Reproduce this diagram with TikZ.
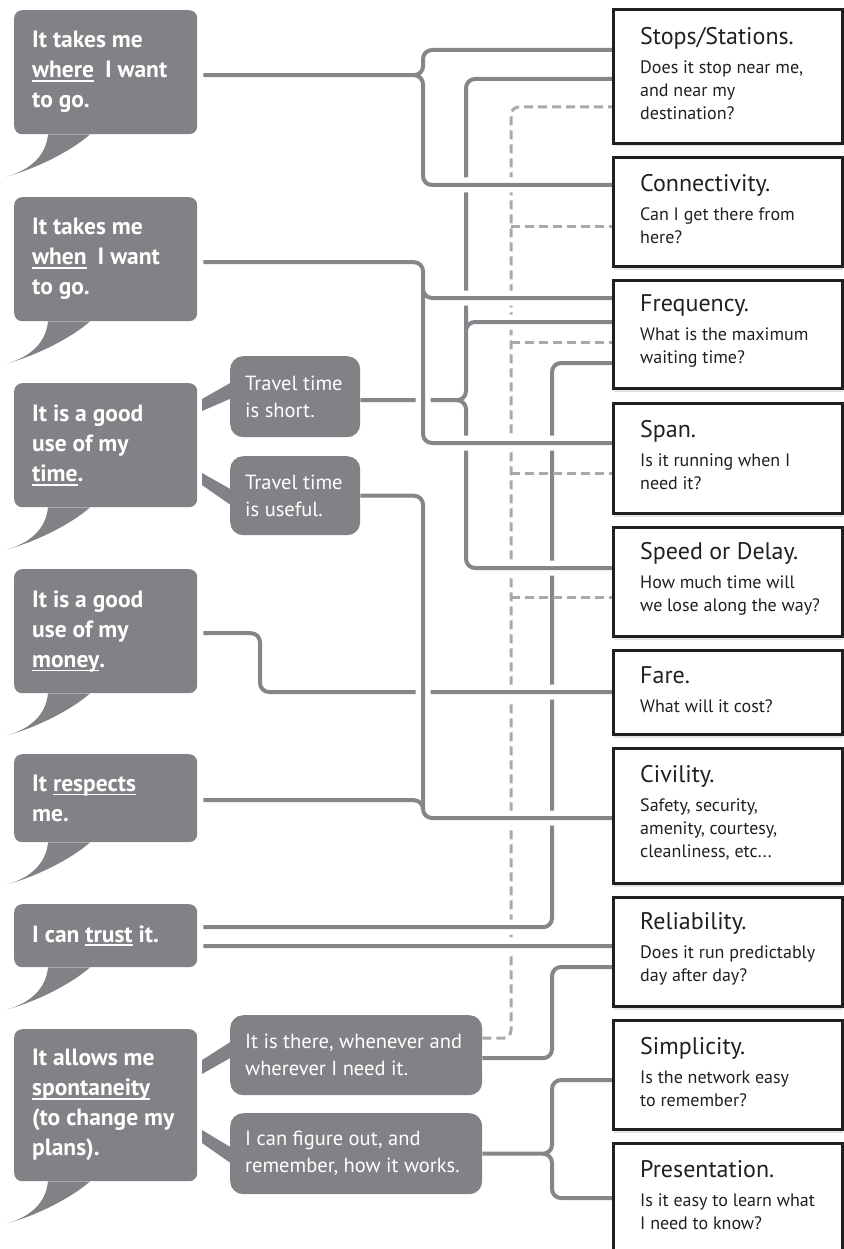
\documentclass[tikz,border=0pt]{standalone}
\usepackage{fontspec}
\setmainfont{PT Sans}
\usetikzlibrary{shadows}
\definecolor{bubblegray}{HTML}{808285}
\definecolor{linegray}{HTML}{858689}
\definecolor{dashgray}{HTML}{A7A9AC}
\definecolor{boxblack}{HTML}{231F20}
\newcommand\bubblefont{\fontsize{23.5}{30}\selectfont\bfseries}
\newcommand\subbubblefont{\fontsize{20.5}{27}\selectfont}
\newcommand\boxtitlefont{\fontsize{24}{28}\selectfont}
\newcommand\boxsubfont{\fontsize{18}{23}\selectfont}
\newcommand\ulword[1]{\setbox0\hbox{#1}\rlap{\rule[-4pt]{\wd0}{1.6pt}}\copy0\relax}
\tikzset{
    mainbubble/.style = {fill=bubblegray, rounded corners=8pt, anchor=north west, minimum width=183pt, inner sep=0pt},
    bubble-text/.style = {text=white, font=\bubblefont, align=left, anchor=west, inner sep=0pt},
    subbubble/.style = {fill=bubblegray, rounded corners=13pt, anchor=north west, inner sep=0pt},
    subbubble-text/.style = {text=white, font=\subbubblefont, align=left, anchor=west, inner sep=0pt},
    infobox/.style = {draw=boxblack, line width=3pt, fill=white, anchor=north west, minimum width=229pt, inner sep=0pt,
        drop shadow={shadow xshift=0.5pt, shadow yshift=-3pt, opacity=0.22}},
    infobox-text/.style = {text=boxblack, font=\boxsubfont, align=left, anchor=west, inner sep=0pt, yshift=3pt},
    link/.style = {draw=linegray, line width=4pt, rounded corners=9pt, preaction={draw=white, line width=15pt}},
    dashlink/.style = {draw=dashgray, line width=3pt, dash pattern=on 9pt off 5pt},
}
\newcommand\bubbletail[1]{\fill[bubblegray] ([xshift=34pt]#1.south west) .. controls +(-2,22) and +(22,-6) .. ([shift={(-7pt,-42pt)}]#1.south west) .. controls +(30,-8) and +(-18,16) .. ([xshift=76pt]#1.south west) -- cycle;}

\begin{document}
\begin{tikzpicture}[x=1pt, y=-1pt]
\useasboundingbox (0,0) rectangle (843,1249);

\coordinate (lane-m) at (260,0);
\coordinate (lane-a) at (423,0);
\coordinate (lane-b) at (466,0);
\coordinate (lane-c) at (511,0);
\coordinate (lane-d) at (552,0);

\node[mainbubble, minimum height=124pt] (where) at (14,10) {};
\node[mainbubble, minimum height=124pt] (when) at (14,197) {};
\node[mainbubble, minimum height=124pt] (time) at (14,383) {};
\node[mainbubble, minimum height=124pt] (money) at (14,569) {};
\node[mainbubble, minimum height=88pt] (respects) at (14,754) {};
\node[mainbubble, minimum height=63pt] (trust) at (14,904) {};
\node[mainbubble, minimum height=152pt] (spont) at (14,1029) {};
\bubbletail{where}
\bubbletail{when}
\bubbletail{time}
\bubbletail{money}
\bubbletail{respects}
\bubbletail{trust}
\bubbletail{spont}
\node[bubble-text] (where-txt) at ([xshift=18pt]where.west) {It takes me\\\ulword{where}\hspace{5pt} I want\\to go.};
\node[bubble-text] (when-txt) at ([xshift=18pt]when.west) {It takes me\\\ulword{when}\hspace{5pt} I want\\to go.};
\node[bubble-text] (time-txt) at ([xshift=18pt]time.west) {It is a good\\use of my\\\ulword{time}.};
\node[bubble-text] (money-txt) at ([xshift=18pt]money.west) {It is a good\\use of my\\\ulword{money}.};
\node[bubble-text] (respects-txt) at ([xshift=18pt]respects.west) {It \ulword{respects}\\me.};
\node[bubble-text] (trust-txt) at ([xshift=18pt]trust.west) {I can \ulword{trust} it.};
\node[bubble-text] (spont-txt) at ([xshift=18pt]spont.west) {It allows me\\\ulword{spontaneity}\\(to change my\\plans).};

\node[subbubble, minimum width=130pt, minimum height=81pt] (short) at (230,356) {};
\node[subbubble, minimum width=130pt, minimum height=79pt] (useful) at (230,456) {};
\node[subbubble, minimum width=252pt, minimum height=80pt] (there) at (230,1015) {};
\node[subbubble, minimum width=252pt, minimum height=81pt] (figure) at (230,1113) {};
\fill[bubblegray] (202,399) -- (232,382) -- (232,398) -- (202,411) -- cycle;
\fill[bubblegray] (202,473) -- (232,490) -- (232,506) -- (202,485) -- cycle;
\fill[bubblegray] (202,1060) -- (232,1041) -- (232,1057) -- (202,1074) -- cycle;
\fill[bubblegray] (202,1130) -- (232,1148) -- (232,1164) -- (202,1143) -- cycle;
\node[subbubble-text] (short-txt) at ([xshift=15pt]short.west) {Travel time\\is short.};
\node[subbubble-text] (useful-txt) at ([xshift=15pt]useful.west) {Travel time\\is useful.};
\node[subbubble-text] (there-txt) at ([xshift=15pt]there.west) {It is there, whenever and\\wherever I need it.};
\node[subbubble-text] (figure-txt) at ([xshift=15pt]figure.west) {I can figure out, and\\remember, how it works.};

\path (612,8) coordinate (stops-nw) (612,156) coordinate (conn-nw) (612,279) coordinate (freq-nw)
      (612,402) coordinate (span-nw) (612,526) coordinate (speed-nw) (612,649) coordinate (fare-nw)
      (612,747) coordinate (civil-nw) (612,896) coordinate (reliab-nw) (612,1019) coordinate (simpl-nw)
      (612,1142) coordinate (pres-nw);
\coordinate (stops-a) at ([yshift=-42pt]stops-nw);
\coordinate (stops-b) at ([yshift=-71pt]stops-nw);
\coordinate (stops-c) at ([yshift=-99pt]stops-nw);
\coordinate (conn-a) at ([yshift=-29pt]conn-nw);
\coordinate (conn-c) at ([yshift=-71pt]conn-nw);
\coordinate (freq-a) at ([yshift=-19pt]freq-nw);
\coordinate (freq-b) at ([yshift=-43pt]freq-nw);
\coordinate (freq-c) at ([yshift=-63pt]freq-nw);
\coordinate (freq-d) at ([yshift=-84pt]freq-nw);
\coordinate (span-a) at ([yshift=-41pt]span-nw);
\coordinate (span-c) at ([yshift=-71pt]span-nw);
\coordinate (speed-a) at ([yshift=-42pt]speed-nw);
\coordinate (speed-c) at ([yshift=-71pt]speed-nw);
\coordinate (fare-a) at ([yshift=-43pt]fare-nw);
\coordinate (civil-a) at ([yshift=-71pt]civil-nw);
\coordinate (reliab-a) at ([yshift=-50pt]reliab-nw);
\coordinate (reliab-b) at ([yshift=-71pt]reliab-nw);
\coordinate (simpl-a) at ([yshift=-61pt]simpl-nw);
\coordinate (pres-a) at ([yshift=-56pt]pres-nw);

\draw[dashlink, rounded corners=8pt] ([yshift=17pt]there.east) -| (lane-c |- stops-c) -- (stops-c);
\draw[link] ([shift={(6pt,8.5pt)}]trust.east) -| (lane-d |- freq-d) -- (freq-d)
    ([shift={(6pt,-10.5pt)}]trust.east) -- (reliab-a);
\draw[link] ([yshift=-3.5pt]short.east) -| (lane-b |- stops-b) -- (stops-b)
    ([yshift=-3.5pt]short.east) -| (lane-b |- freq-b) -- (freq-b)
    ([yshift=-3.5pt]short.east) -| (lane-b |- speed-a) -- (speed-a);
\draw[link] ([shift={(6pt,-3pt)}]where.east) -| (lane-a |- stops-a) -- (stops-a)
    ([shift={(6pt,-3pt)}]where.east) -| (lane-a |- conn-a) -- (conn-a);
\draw[link] ([shift={(6pt,-3pt)}]when.east) -| (lane-a |- freq-a) -- (freq-a)
    ([shift={(6pt,-3pt)}]when.east) -| (lane-a |- span-a) -- (span-a);
\draw[link] ([shift={(6pt,-2pt)}]money.east) -| (lane-m |- fare-a) -- (fare-a);
\draw[link] (useful.east) -| (lane-a |- civil-a) -- (civil-a)
    ([shift={(6pt,-2pt)}]respects.east) -| (lane-a |- civil-a) -- (civil-a);
\draw[link] ([yshift=-3pt]there.east) -| (lane-d |- reliab-b) -- (reliab-b);
\draw[link] (figure.east) -| (lane-d |- simpl-a) -- (simpl-a)
    (figure.east) -| (lane-d |- pres-a) -- (pres-a);
\draw[dashlink] (lane-c |- conn-c) -- (conn-c) (lane-c |- freq-c) -- (freq-c)
    (lane-c |- span-c) -- (span-c) (lane-c |- speed-c) -- (speed-c);

\node[infobox, minimum height=134pt] (stops) at (stops-nw) {};
\node[infobox, minimum height=109pt] (conn) at (conn-nw) {};
\node[infobox, minimum height=108pt] (freq) at (freq-nw) {};
\node[infobox, minimum height=110pt] (span) at (span-nw) {};
\node[infobox, minimum height=109pt] (speed) at (speed-nw) {};
\node[infobox, minimum height=84pt] (fare) at (fare-nw) {};
\node[infobox, minimum height=135pt] (civil) at (civil-nw) {};
\node[infobox, minimum height=109pt] (reliab) at (reliab-nw) {};
\node[infobox, minimum height=109pt] (simpl) at (simpl-nw) {};
\node[infobox, minimum height=110pt] (pres) at (pres-nw) {};
\node[infobox-text] (stops-txt) at ([xshift=28pt]stops.west) {{\boxtitlefont Stops/Stations.}\\[6pt]Does it stop near me,\\and near my\\destination?};
\node[infobox-text] (conn-txt) at ([xshift=28pt]conn.west) {{\boxtitlefont Connectivity.}\\[6pt]Can I get there from\\here?};
\node[infobox-text] (freq-txt) at ([xshift=28pt]freq.west) {{\boxtitlefont Frequency.}\\[6pt]What is the maximum\\waiting time?};
\node[infobox-text] (span-txt) at ([xshift=28pt]span.west) {{\boxtitlefont Span.}\\[6pt]Is it running when I\\need it?};
\node[infobox-text] (speed-txt) at ([xshift=28pt]speed.west) {{\boxtitlefont Speed or Delay.}\\[6pt]How much time will\\we lose along the way?};
\node[infobox-text] (fare-txt) at ([xshift=28pt]fare.west) {{\boxtitlefont Fare.}\\[6pt]What will it cost?};
\node[infobox-text] (civil-txt) at ([xshift=28pt]civil.west) {{\boxtitlefont Civility.}\\[6pt]Safety, security,\\amenity, courtesy,\\cleanliness, etc...};
\node[infobox-text] (reliab-txt) at ([xshift=28pt]reliab.west) {{\boxtitlefont Reliability.}\\[6pt]Does it run predictably\\day after day?};
\node[infobox-text] (simpl-txt) at ([xshift=28pt]simpl.west) {{\boxtitlefont Simplicity.}\\[6pt]Is the network easy\\to remember?};
\node[infobox-text] (pres-txt) at ([xshift=28pt]pres.west) {{\boxtitlefont Presentation.}\\[6pt]Is it easy to learn what\\I need to know?};
\end{tikzpicture}
\end{document}
